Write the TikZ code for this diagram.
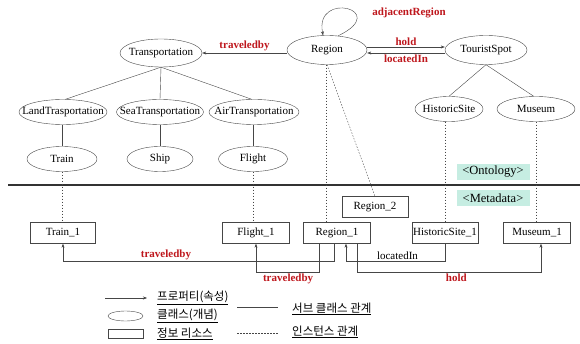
\documentclass[tikz,border=0pt]{standalone}
\usepackage{fontspec}
\setmainfont{Liberation Serif}
\newfontfamily\krfont{Noto Sans CJK KR}
\usetikzlibrary{shapes.geometric,arrows.meta}

\definecolor{relred}{RGB}{190,22,28}
\definecolor{linegray}{RGB}{70,70,70}
\definecolor{layerfill}{RGB}{198,237,226}
\newcommand{\figsize}{\fontsize{11}{13}\selectfont}

\tikzset{
  cls/.style={ellipse, draw=linegray, inner sep=0pt, minimum height=25pt,
    execute at begin node={\hbox to 0pt\bgroup\hss},
    execute at end node={\hss\egroup}},
  res/.style={rectangle, draw=linegray, inner xsep=0pt, minimum height=21pt},
  layer/.style={fill=layerfill, minimum width=73pt, minimum height=16pt, inner sep=0pt,
    font=\fontsize{12.5}{14}\selectfont},
  rel/.style={draw=linegray, -{Stealth[length=4pt,width=3pt]}},
  inst/.style={draw=linegray, dash pattern=on 1.5pt off 1.5pt},
  sub/.style={draw=linegray},
  rlab/.style={text=relred, font=\figsize\bfseries, inner sep=1.5pt},
  kr/.style={font=\krfont\fontsize{11.5}{13}\selectfont, anchor=west, inner sep=0pt},
}

\begin{document}
\begin{tikzpicture}[x=1pt, y=-1pt, font=\figsize]
    \useasboundingbox (0,0) rectangle (580,344);

    % Ontology classes
    \node[cls, minimum width=82pt, minimum height=28pt] (trans) at (161,53) {Transportation};
    \node[cls, minimum width=80pt, minimum height=29pt] (region) at (327,50) {Region};
    \node[cls, minimum width=82pt, minimum height=29pt] (tspot) at (486,50) {TouristSpot};
    \node[cls, minimum width=88pt] (land) at (63,112) {LandTrasportation};
    \node[cls, minimum width=87pt] (sea) at (160,112) {SeaTransportation};
    \node[cls, minimum width=90pt] (air) at (254,112) {AirTransportation};
    \node[cls, minimum width=70pt] (train) at (62,159) {Train};
    \node[cls, minimum width=66pt] (ship) at (160,159) {Ship};
    \node[cls, minimum width=69pt] (flight) at (253,159) {Flight};
    \node[cls, minimum width=68pt] (hsite) at (449,109) {HistoricSite};
    \node[cls, minimum width=78pt] (museum) at (536,109) {Museum};

    % Layer labels and the divider
    \node[layer] (onto) at (493,172) {<Ontology>};
    \node[layer] (meta) at (493,198) {<Metadata>};
    \draw[line width=1.6pt, draw=black!80] (8,185) -- (580,185);

    % Metadata resources
    \node[res, minimum width=65pt] (train1) at (63,233) {Train\_1};
    \node[res, minimum width=67pt] (flight1) at (256,233) {Flight\_1};
    \node[res, minimum width=67pt] (region1) at (337,233) {Region\_1};
    \node[res, minimum width=66pt] (region2) at (375,207) {Region\_2};
    \node[res, minimum width=66pt] (hsite1) at (445,233) {HistoricSite\_1};
    \node[res, minimum width=67pt] (museum1) at (537,233) {Museum\_1};

    % Subclass lines
    \draw[sub] (trans.south) -- (land.80);
    \draw[sub] (trans.south) -- (sea.north);
    \draw[sub] (trans.south) -- (air.100);
    \draw[sub] (land.south -| train.north) -- (train.north);
    \draw[sub] (sea.south) -- (ship.north);
    \draw[sub] (air.south -| flight.north) -- (flight.north);
    \draw[sub] (tspot.south) -- (hsite.north);
    \draw[sub] (tspot.south) -- (museum.100);

    % Instance lines
    \draw[inst] (train.south) -- (train.south |- train1.north);
    \draw[inst] (flight.south) -- (flight.south |- flight1.north);
    \draw[inst] (region.265) -- (region.265 |- region1.north);
    \draw[inst] (region.south) -- (region2.north);
    \draw[inst] (hsite1.north |- hsite.south) -- (hsite1.north);
    \draw[inst] (museum.south) -- (museum.south |- museum1.north);

    % Properties between classes
    \draw[rel] (trans.east -| region.west) -- (trans.east)
        node[rlab, midway, above] (tbylab) {traveledby};
    \draw[rel] ([yshift=3pt]region.east) -- ([yshift=3pt]tspot.west)
        node[rlab, midway, above] (holdlab) {hold};
    \draw[rel] ([yshift=-3pt]tspot.west) -- ([yshift=-3pt]region.east)
        node[rlab, midway, below] (loclab) {locatedIn};
    \draw[rel] (region.52) .. controls (392,10) and (314,-10) .. (region.105);
    \node[rlab] (adjlab) at (409,13) {adjacentRegion};

    % Properties between resources
    \draw[rel] ([xshift=-3pt]region1.south) -- ++(0,17.5) -| (train1.south)
        node[rlab, pos=0.31, above] (tby1lab) {traveledby};
    \draw[rel] ([xshift=-18pt]region1.south) -- ++(0,28.5) -| (flight1.south)
        node[rlab, pos=0.245, below] (tby2lab) {traveledby};
    \draw[rel] (hsite1.south) -- ++(0,17.5) -| ([xshift=9pt]region1.south)
        node[pos=0.24, above, inner sep=1.5pt] (loc1lab) {locatedIn};
    \draw[rel] ([xshift=20pt]region1.south) -- ++(0,28.5) -| ([xshift=4pt]museum1.south)
        node[rlab, pos=0.27, below] (hold1lab) {hold};

    % Legend
    \coordinate (legA) at (105,298);
    \coordinate (legB) at (147,298);
    \draw[rel] (legA) -- (legB);
    \node[kr] (legprop) at (157,298) {\underline{프로퍼티(속성)}};
    \node[cls, minimum width=35pt, minimum height=10pt] (legcls) at (125.5,316) {};
    \node[kr] (legclass) at (157,316) {\underline{클래스(개념)}};
    \node[res, minimum width=35pt, minimum height=9pt] (legres) at (125.5,334) {};
    \node[kr] (legresource) at (157,334) {\underline{정보 리소스}};
    \coordinate (legC) at (237,307);
    \coordinate (legD) at (278,307);
    \draw[sub] (legC) -- (legD);
    \node[kr] (legsub) at (292,309) {\underline{서브 클래스 관계}};
    \coordinate (legE) at (237,333);
    \coordinate (legF) at (278,333);
    \draw[inst] (legE) -- (legF);
    \node[kr] (leginst) at (292,332) {\underline{인스턴스 관계}};
\end{tikzpicture}
\end{document}
